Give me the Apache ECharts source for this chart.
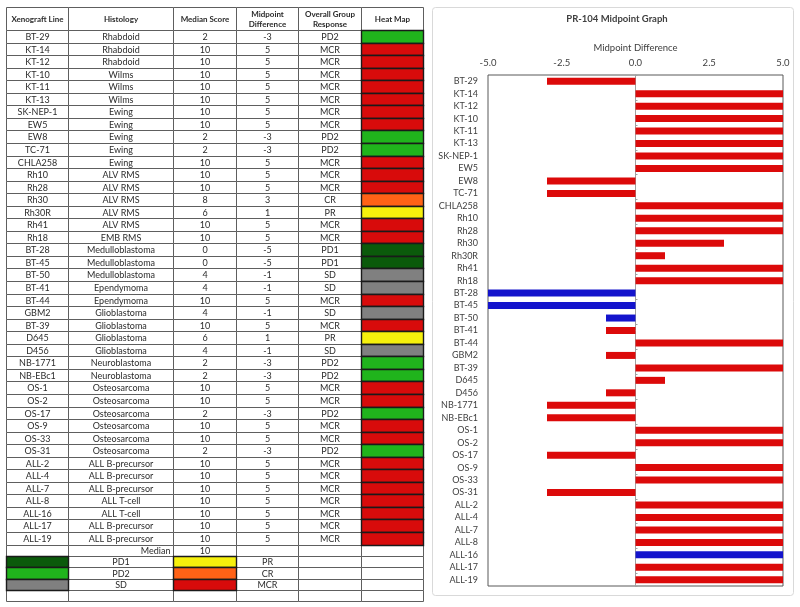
<!DOCTYPE html>
<html>
<head>
<meta charset="utf-8">
<script src="https://cdn.jsdelivr.net/npm/echarts@6/dist/echarts.min.js"></script>
<style>html,body{margin:0;padding:0;background:#fff}#c{width:800px;height:607px}</style>
</head>
<body>
<div id="c"></div>
<script>
const lines = ['BT-29','KT-14','KT-12','KT-10','KT-11','KT-13','SK-NEP-1','EW5','EW8','TC-71','CHLA258','Rh10','Rh28','Rh30','Rh30R','Rh41','Rh18','BT-28','BT-45','BT-50','BT-41','BT-44','GBM2','BT-39','D645','D456','NB-1771','NB-EBc1','OS-1','OS-2','OS-17','OS-9','OS-33','OS-31','ALL-2','ALL-4','ALL-7','ALL-8','ALL-16','ALL-17','ALL-19'];
const histology = ['Rhabdoid','Rhabdoid','Rhabdoid','Wilms','Wilms','Wilms','Ewing','Ewing','Ewing','Ewing','Ewing','ALV RMS','ALV RMS','ALV RMS','ALV RMS','ALV RMS','EMB RMS','Medulloblastoma','Medulloblastoma','Medulloblastoma','Ependymoma','Ependymoma','Glioblastoma','Glioblastoma','Glioblastoma','Glioblastoma','Neuroblastoma','Neuroblastoma','Osteosarcoma','Osteosarcoma','Osteosarcoma','Osteosarcoma','Osteosarcoma','Osteosarcoma','ALL B-precursor','ALL B-precursor','ALL B-precursor','ALL T-cell','ALL T-cell','ALL B-precursor','ALL B-precursor'];
const medianScore = [2,10,10,10,10,10,10,10,2,2,10,10,10,8,6,10,10,0,0,4,4,10,4,10,6,4,2,2,10,10,2,10,10,2,10,10,10,10,10,10,10];
const midpointDiff = [-3,5,5,5,5,5,5,5,-3,-3,5,5,5,3,1,5,5,-5,-5,-1,-1,5,-1,5,1,-1,-3,-3,5,5,-3,5,5,-3,5,5,5,5,5,5,5];
const response = ['PD2','MCR','MCR','MCR','MCR','MCR','MCR','MCR','PD2','PD2','MCR','MCR','MCR','CR','PR','MCR','MCR','PD1','PD1','SD','SD','MCR','SD','MCR','PR','SD','PD2','PD2','MCR','MCR','PD2','MCR','MCR','PD2','MCR','MCR','MCR','MCR','MCR','MCR','MCR'];
const blueBarLines = ['BT-28','BT-45','BT-50','ALL-16'];
const tableHeaders = ['Xenograft Line','Histology','Median Score','Midpoint\nDifference','Overall Group\nResponse','Heat Map'];
const overallMedian = 10;
const legendLeft = ['PD1','PD2','SD'];
const legendRight = ['PR','CR','MCR'];
const xTickMin = -5, xTickMax = 5, xTickStep = 2.5;

// styles / layout
const respColor = {PD1:'#0b5a0b', PD2:'#20b41c', SD:'#808080', PR:'#f6f00c', CR:'#ff6216', MCR:'#d80b0b'};
const barRed = '#dc0a0a', barBlue = '#1414cc';
const colW = [62.5, 105, 63, 62, 63, 62];
const headerH = 23, dataH = 12.55, footH = 11.35;
const FONT = 'Lato';

const colEdges = [0]; colW.forEach(w => colEdges.push(colEdges[colEdges.length-1] + w));
const rowHeights = [headerH].concat(lines.map(() => dataH), [footH, footH, footH, footH, footH]);
const rowEdges = [0]; rowHeights.forEach(h => rowEdges.push(rowEdges[rowEdges.length-1] + h));
const totalW = colEdges[colEdges.length-1], totalH = rowEdges[rowEdges.length-1];

const cells = [];
tableHeaders.forEach((t, c) => cells.push({value:[c,0], text:t, bold:true}));
lines.forEach((ln, i) => {
  const r = i + 1;
  cells.push({value:[0,r], text:ln});
  cells.push({value:[1,r], text:histology[i]});
  cells.push({value:[2,r], text:String(medianScore[i])});
  cells.push({value:[3,r], text:String(midpointDiff[i])});
  cells.push({value:[4,r], text:response[i]});
  cells.push({value:[5,r], text:'', fill:respColor[response[i]]});
});
const mr = lines.length + 1;
cells.push({value:[0,mr], text:''});
cells.push({value:[1,mr], text:'Median', align:'right'});
cells.push({value:[2,mr], text:String(overallMedian)});
[3,4,5].forEach(c => cells.push({value:[c,mr], text:''}));
legendLeft.forEach((k, j) => {
  const r = mr + 1 + j;
  cells.push({value:[0,r], text:'', fill:respColor[k]});
  cells.push({value:[1,r], text:k});
  cells.push({value:[2,r], text:'', fill:respColor[legendRight[j]]});
  cells.push({value:[3,r], text:legendRight[j]});
  cells.push({value:[4,r], text:''});
  cells.push({value:[5,r], text:''});
});
[0,1,2,3,4,5].forEach(c => cells.push({value:[c,mr+4], text:''}));
// plain cells first, filled cells on top
cells.sort((a,b) => (a.fill?1:0) - (b.fill?1:0));

function renderCell(params, api) {
  const cell = cells[params.dataIndex];
  const c = api.value(0), r = api.value(1);
  const p0 = api.coord([colEdges[c], rowEdges[r]]);
  const p1 = api.coord([colEdges[c+1], rowEdges[r+1]]);
  const x0 = Math.round(p0[0]) + 0.5, y0 = Math.round(p0[1]) + 0.5;
  const x1 = Math.round(p1[0]) + 0.5, y1 = Math.round(p1[1]) + 0.5;
  const children = [{
    type:'rect', shape:{x:x0, y:y0, width:x1-x0, height:y1-y0},
    style:{fill: cell.fill || '#fff', stroke: cell.fill ? '#1a1a1a' : '#5e5e5e', lineWidth: cell.fill ? 1.4 : 1}
  }];
  if (cell.text) {
    const right = cell.align === 'right';
    children.push({
      type:'text',
      style:{
        text: cell.text,
        x: right ? x1 - 3 : (x0 + x1) / 2,
        y: (y0 + y1) / 2 + 0.5,
        align: right ? 'right' : 'center',
        verticalAlign: 'middle',
        fontFamily: FONT,
        fontSize: cell.bold ? 8 : 9,
        fontWeight: cell.bold ? 'bold' : 'normal',
        lineHeight: 10.5,
        fill: '#2b2b2b'
      }
    });
  }
  return {type:'group', children};
}

const chart = echarts.init(document.getElementById('c'), null, {renderer:'canvas'});
chart.setOption({
  animation:false,
  backgroundColor:'#fff',
  title:{
    text:'PR-104 Midpoint Graph', left:612, top:9, textAlign:'center',
    textStyle:{fontFamily:FONT, fontSize:9.5, fontWeight:'bold', color:'#404040'}
  },
  graphic:[{
    type:'rect', shape:{x:432.5, y:7.5, width:361, height:588, r:3},
    style:{fill:'none', stroke:'#d9d9d9', lineWidth:1}, silent:true, z:-1
  }],
  grid:[
    {left:488, top:75, width:295, height:511, show:true, borderColor:'#595959', borderWidth:1, backgroundColor:'transparent'},
    {left:5.5, top:7, width:totalW, height:totalH}
  ],
  xAxis:[
    {type:'value', gridIndex:0, position:'top', min:xTickMin, max:xTickMax, interval:xTickStep,
     name:'Midpoint Difference', nameLocation:'middle', nameGap:21,
     nameTextStyle:{fontFamily:FONT, fontSize:9.5, color:'#404040'},
     axisLine:{show:false}, axisTick:{show:false}, splitLine:{show:false},
     axisLabel:{formatter:v => v.toFixed(1), fontFamily:FONT, fontSize:9.5, color:'#404040', margin:7}},
    {type:'value', gridIndex:1, min:0, max:totalW, show:false}
  ],
  yAxis:[
    {type:'category', gridIndex:0, data:lines, inverse:true,
     axisLine:{show:false, onZero:false}, axisTick:{show:false}, splitLine:{show:false},
     axisLabel:{fontFamily:FONT, fontSize:9, color:'#404040', margin:10, interval:0}},
    {type:'category', gridIndex:0, data:lines, inverse:true, position:'right',
     axisLine:{show:true, onZero:true, lineStyle:{color:'#a0a0a0', width:1}},
     axisTick:{show:true, length:2, lineStyle:{color:'#a0a0a0'}}, axisLabel:{show:false}, splitLine:{show:false}},
    {type:'value', gridIndex:1, min:0, max:totalH, inverse:true, show:false}
  ],
  series:[
    {type:'bar', xAxisIndex:0, yAxisIndex:0, barWidth:7, z:3,
     data: midpointDiff.map((v, i) => ({value:v, itemStyle:{color: blueBarLines.includes(lines[i]) ? barBlue : barRed}}))},
    {type:'custom', xAxisIndex:1, yAxisIndex:2, renderItem:renderCell, clip:false,
     data: cells.map(c => c.value)}
  ]
});
</script>
</body>
</html>
